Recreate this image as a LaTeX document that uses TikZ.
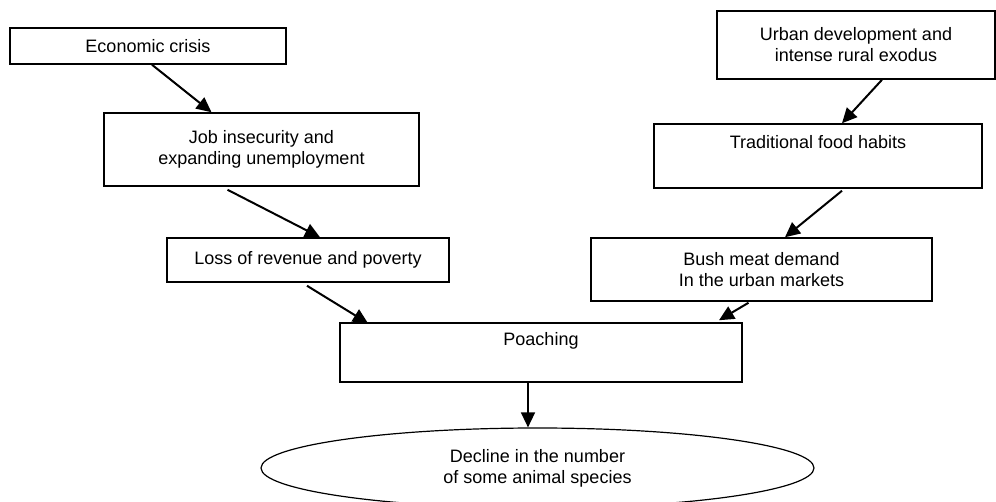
\documentclass[tikz,border=0pt]{standalone}
\usepackage{fontspec}
\setmainfont{Liberation Sans}
\usepackage{tikz}
\usetikzlibrary{arrows.meta,positioning,shapes.geometric}

\begin{document}
\begin{tikzpicture}[x=1pt,y=-1pt,
  box/.style={draw,line width=1.5pt,inner sep=0pt,font=\fontsize{18}{21}\selectfont,align=center},
  >={Triangle[length=15pt,width=14pt]}, line width=2pt]
\useasboundingbox (0,0) rectangle (996,502);
\node[box,minimum width=276pt,minimum height=36pt] (eco) at (148,46) {Economic crisis};
\node[box,minimum width=315pt,minimum height=73pt] (job) at (261.5,149.5) {Job insecurity and\\expanding unemployment};
\node[box,minimum width=282pt,minimum height=44pt] (loss) at (308,260) {Loss of revenue and poverty};
\node[box,minimum width=278pt,minimum height=68pt] (urban) at (856,45) {Urban development and\\intense rural exodus};
\node[box,minimum width=328pt,text height=25pt,text depth=39pt] (trad) at (818,156) {Traditional food habits};
\node[box,minimum width=341pt,minimum height=63pt] (bush) at (761.5,269.5) {Bush meat demand\\In the urban markets};
\node[box,minimum width=402pt,text height=23pt,text depth=36pt] (poach) at (541,352.5) {Poaching};
\node[box,ellipse,line width=1.2pt,minimum width=553pt,minimum height=80pt] (decline) at (537.5,468)
  {Decline in the number\\of some animal species};
\draw[->] ([xshift=4pt]eco.south) -- ([xshift=-50pt]job.north);
\draw[->] ([xshift=-34pt,yshift=-3pt]job.south) -- ([xshift=12pt]loss.north);
\draw[->] ([xshift=-1pt,yshift=-3pt]loss.south) -- ([xshift=-173pt,yshift=-1pt]poach.north);
\draw[->] ([xshift=26pt]urban.south) -- ([xshift=24pt]trad.north);
\draw[->] ([xshift=24pt,yshift=-2pt]trad.south) -- ([xshift=23.5pt]bush.north);
\draw[->] ([xshift=-13pt,yshift=-1pt]bush.south) -- ([xshift=178pt,yshift=2pt]poach.north);
\draw[->,line width=1.5pt] ([xshift=-13pt]poach.south) -- ([xshift=-13pt]poach.south |- decline.north);
\end{tikzpicture}
\end{document}
